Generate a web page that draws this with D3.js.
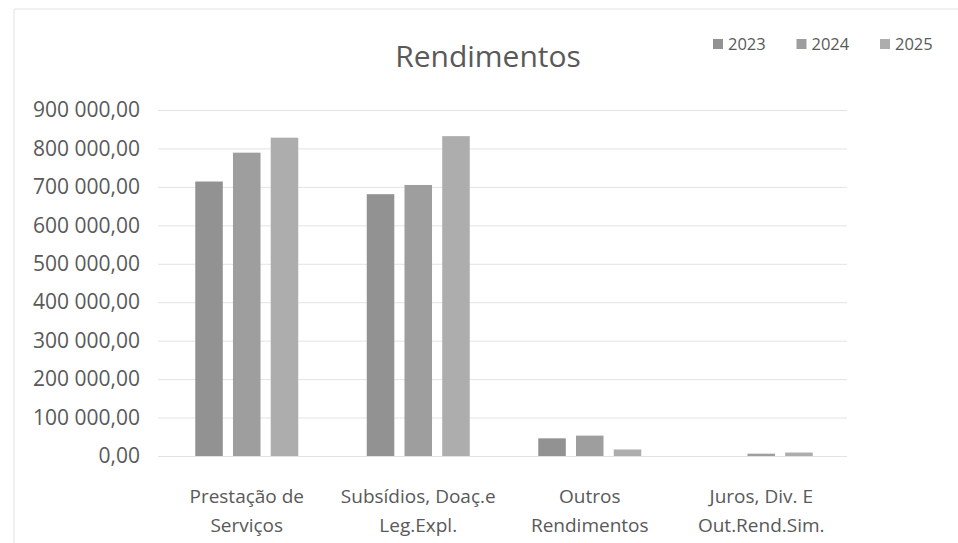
<!DOCTYPE html>
<html>
<head>
<meta charset="utf-8">
<script src="https://cdn.jsdelivr.net/npm/d3@7"></script>
<style>
  body { margin: 0; background: #fff; }
  text { font-family: "Open Sans", sans-serif; fill: #595959; }
</style>
</head>
<body>
<div id="chart"></div>
<script>
const width = 958;
const height = 543;

// data
const categories = [
	["Prestação de", "Serviços"],
	["Subsídios, Doaç.e", "Leg.Expl."],
	["Outros", "Rendimentos"],
	["Juros, Div. E", "Out.Rend.Sim."]
];
const years = ["2023", "2024", "2025"];
const v2023 = [714000, 681000, 46000, 0];
const v2024 = [789000, 705000, 53000, 6000];
const v2025 = [828000, 832000, 17000, 9000];
const yTicks = [0, 100000, 200000, 300000, 400000, 500000, 600000, 700000, 800000, 900000];

const colors = ["#929292", "#9e9e9e", "#adadad"];
const series = [v2023, v2024, v2025];

const margin = { top: 110, bottom: 87, left: 161, right: 111 };

const svg = d3
	.select("#chart")
	.append("svg")
	.attr("width", width)
	.attr("height", height);

// chart frame
svg.append("line")
	.attr("x1", 14).attr("x2", width).attr("y1", 9).attr("y2", 9)
	.style("stroke", "#e2e2e2");
svg.append("line")
	.attr("x1", 14).attr("x2", 14).attr("y1", 9).attr("y2", height)
	.style("stroke", "#e2e2e2");

const x0 = d3
	.scaleBand()
	.domain(d3.range(categories.length))
	.range([margin.left, width - margin.right]);

const x1 = d3
	.scaleBand()
	.domain(years)
	.range([0, 103])
	.paddingInner(0.27);

const y = d3
	.scaleLinear()
	.domain([0, 900000])
	.range([height - margin.bottom, margin.top]);

const fmt = v => d3.format(",.2f")(v).replace(/,/g, " ").replace(".", ",");

// gridlines + tick labels
const yAxis = svg
	.append("g")
	.attr("transform", `translate(${margin.left - 3},0)`)
	.call(
		d3.axisLeft(y)
			.tickValues(yTicks)
			.tickSize(-(width - margin.left - margin.right + 3))
			.tickPadding(18)
			.tickFormat(fmt)
	);
yAxis.select(".domain").remove();
yAxis.selectAll(".tick line").style("stroke", "#e3e3e3").style("stroke-width", 1);
yAxis.selectAll(".tick text")
	.style("font-family", "Open Sans")
	.style("font-size", "21px")
	.style("fill", "#595959");

// bars
const groups = svg
	.selectAll("g.cat")
	.data(categories)
	.enter()
	.append("g")
	.attr("class", "cat")
	.attr("transform", (d, i) => `translate(${x0(i) + x0.bandwidth() / 2 - 51.5},0)`);

groups
	.selectAll("rect")
	.data((d, i) => years.map((yr, j) => ({ yr: yr, j: j, v: series[j][i] })))
	.enter()
	.append("rect")
	.attr("x", d => x1(d.yr))
	.attr("width", x1.bandwidth())
	.attr("y", d => y(d.v))
	.attr("height", d => y(0) - y(d.v))
	.attr("fill", d => colors[d.j]);

// category labels
const labels = svg
	.selectAll("text.cat")
	.data(categories)
	.enter()
	.append("text")
	.attr("class", "cat")
	.attr("x", (d, i) => x0(i) + x0.bandwidth() / 2)
	.attr("y", 503)
	.style("font-size", "19px")
	.style("text-anchor", "middle");
labels
	.selectAll("tspan")
	.data(d => d)
	.enter()
	.append("tspan")
	.attr("x", function() { return this.parentNode.getAttribute("x"); })
	.attr("dy", (d, i) => (i === 0 ? 0 : 29))
	.text(d => d);

// title
svg.append("text")
	.attr("x", 488)
	.attr("y", 67)
	.style("font-size", "30px")
	.style("text-anchor", "middle")
	.text("Rendimentos");

// legend
const leg = svg
	.selectAll("g.leg")
	.data(years)
	.enter()
	.append("g")
	.attr("class", "leg")
	.attr("transform", (d, i) => `translate(${713 + i * 83.5},0)`);
leg.append("rect")
	.attr("x", 0).attr("y", 39)
	.attr("width", 10).attr("height", 10)
	.attr("fill", (d, i) => colors[i]);
leg.append("text")
	.attr("x", 15).attr("y", 50)
	.style("font-size", "16.5px")
	.text(d => d);
</script>
</body>
</html>
